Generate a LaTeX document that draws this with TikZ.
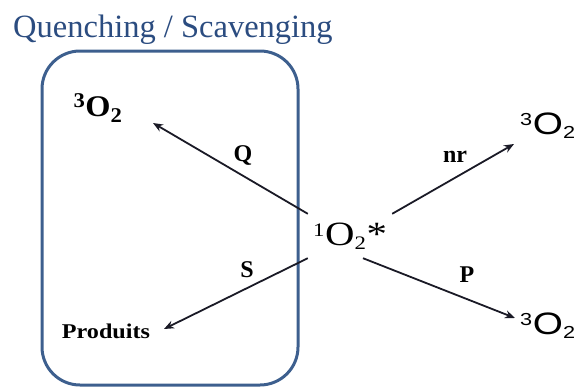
\documentclass[tikz,border=0pt]{standalone}
\usepackage{fontspec}
\setmainfont{Liberation Serif}
\newfontfamily\arialf{Liberation Sans}
\usepackage{graphicx}
\usetikzlibrary{arrows.meta,calc}
\definecolor{titleblue}{HTML}{2B4C80}
\definecolor{boxblue}{HTML}{3D5F8E}
\definecolor{arrowc}{HTML}{1A1A26}
\newcommand\smsup[1]{\textsuperscript{\scalebox{0.8}{#1}}}
\newcommand\smsub[1]{\textsubscript{\scalebox{0.8}{#1}}}
\begin{document}
\begin{tikzpicture}[x=1pt,y=-1pt,
  txt/.style={inner sep=0pt, text=black},
  lbl/.style={inner sep=0pt, font=\fontsize{24}{28}\selectfont\bfseries},
  arr/.style={draw=arrowc, line width=1.8pt, -{Stealth[length=10pt,width=8pt]}},
  frame/.style={draw=boxblue, line width=3pt, rounded corners=38pt, minimum width=256pt, minimum height=334pt, inner sep=0pt}]
\useasboundingbox (0,0) rectangle (579,388);
\node[anchor=base west, inner sep=0pt, text=titleblue, font=\fontsize{32.5}{38}\selectfont] (title) at (13,37) {Quenching / Scavenging};
\node[frame] (box) at (170,218) {};
\node[txt, minimum width=84pt, minimum height=44pt] (c) at (350,236)
  {\fontsize{34}{40}\selectfont\scalebox{1.2}[1]{\smsup{1}O\smsub{2}*}};
\node[txt] (o1) at (98,108) {\fontsize{30}{34}\selectfont\bfseries\scalebox{1.08}[1]{\textsuperscript{3}O\textsubscript{2}}};
\node[txt] (o2) at (548,126) {\arialf\fontsize{31}{36}\selectfont\scalebox{1.25}[1]{\smsup{3}O\smsub{2}}};
\node[txt] (o3) at (548,326) {\arialf\fontsize{31}{36}\selectfont\scalebox{1.25}[1]{\smsup{3}O\smsub{2}}};
\node[txt] (prod) at (106,331) {\fontsize{21}{25}\selectfont\scalebox{1.15}[1]{\textbf{Produits}}};
\node[lbl] (lq) at (243,155) {Q};
\node[lbl] (ls) at (247,270) {S};
\node[lbl] (lnr) at (455,157) {nr};
\node[lbl] (lp) at (467,275) {P};
\draw[arr] (c.north west) -- ([shift={(55,15)}]o1.center);
\draw[arr] (c.south west) -- ([shift={(58,-2)}]prod.center);
\draw[arr] (c.north east) -- ([shift={(-34,18)}]o2.center);
\draw[arr] ([xshift=13pt]c.south) -- ([shift={(-33,-8)}]o3.center);
\end{tikzpicture}
\end{document}
